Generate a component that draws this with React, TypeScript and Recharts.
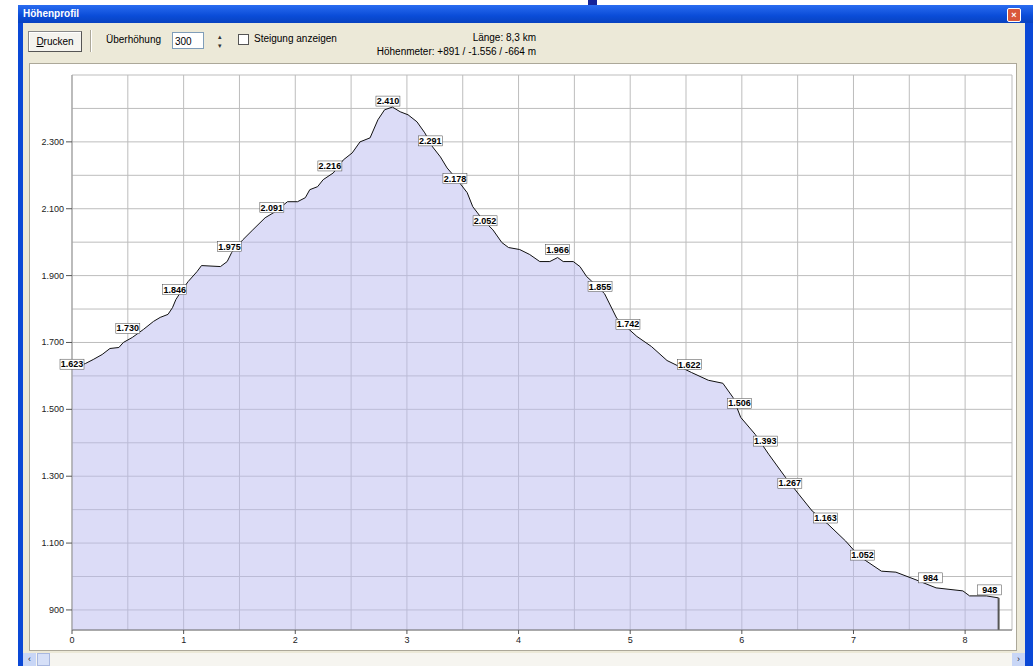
import React from 'react'
import {
  ComposedChart,
  Area,
  Scatter,
  XAxis,
  YAxis,
  CartesianGrid,
  ReferenceLine,
} from 'recharts'

// elevation profile (km / m)
const distKm = [
  0.0, 0.12, 0.19, 0.27, 0.34, 0.42, 0.46, 0.54, 0.64, 0.73, 0.79, 0.86, 0.9, 0.93, 0.97,
  1.04, 1.12, 1.16, 1.33, 1.39, 1.43, 1.53, 1.62, 1.73, 1.82, 1.93, 2.02, 2.09, 2.13, 2.2,
  2.25, 2.34, 2.43, 2.51, 2.58, 2.67, 2.74, 2.8, 2.87, 2.94, 3.01, 3.09, 3.16, 3.23, 3.3,
  3.36, 3.45, 3.54, 3.59, 3.68, 3.77, 3.85, 3.91, 4.01, 4.1, 4.19, 4.28, 4.35, 4.4, 4.49,
  4.55, 4.61, 4.64, 4.77, 4.88, 5.06, 5.19, 5.33, 5.55, 5.7, 5.83, 5.92, 5.99, 6.12, 6.24,
  6.39, 6.51, 6.63, 6.77, 6.93, 7.05, 7.25, 7.38, 7.56, 7.74, 7.98, 8.04, 8.19, 8.3,
]
const elevM = [
  1622, 1637, 1649, 1664, 1682, 1685, 1700, 1715, 1739, 1763, 1775, 1784, 1804, 1828, 1849,
  1882, 1912, 1930, 1927, 1942, 1969, 2007, 2037, 2073, 2091, 2121, 2121, 2133, 2157, 2166,
  2187, 2207, 2246, 2267, 2300, 2312, 2366, 2396, 2404, 2390, 2381, 2360, 2327, 2285, 2255,
  2222, 2187, 2148, 2106, 2067, 2037, 1999, 1984, 1978, 1963, 1942, 1942, 1954, 1942, 1942,
  1927, 1897, 1888, 1846, 1772, 1718, 1688, 1646, 1610, 1587, 1578, 1536, 1476, 1425, 1366,
  1297, 1246, 1196, 1157, 1106, 1061, 1016, 1013, 990, 966, 957, 942, 942, 936,
]

// waypoint labels along the line
const labelKm = [
  0.0, 0.5, 0.92, 1.41, 1.79, 2.31, 2.83, 3.21, 3.43, 3.7, 4.35, 4.73, 4.98, 5.53, 5.98,
  6.21, 6.43, 6.75, 7.08, 7.69, 8.22,
]
const labelElev = [
  1623, 1730, 1846, 1975, 2091, 2216, 2410, 2291, 2178, 2052, 1966, 1855, 1742, 1622, 1506,
  1393, 1267, 1163, 1052, 984, 948,
]

const xTicks = [0, 0.5, 1, 1.5, 2, 2.5, 3, 3.5, 4, 4.5, 5, 5.5, 6, 6.5, 7, 7.5, 8]
const xLabels = [0, 1, 2, 3, 4, 5, 6, 7, 8]
const yTicks = [900, 1000, 1100, 1200, 1300, 1400, 1500, 1600, 1700, 1800, 1900, 2000, 2100, 2200, 2300, 2400, 2500]
const yLabels = [900, 1100, 1300, 1500, 1700, 1900, 2100, 2300]

const data = distKm.map((km, i) => ({ km, elev: elevM[i] }))
const labelData = labelKm.map((km, i) => ({ km, elev: labelElev[i] }))

const Y_MIN = 840
const fmt = (v: number) => v.toLocaleString('de-DE')
const ui = { fontFamily: '"Liberation Sans", Arial, sans-serif', fontSize: 10, color: '#000' }

const YTick = ({ x, y, payload }: any) => {
  if (!yLabels.includes(payload.value)) return <g />
  return (
    <g>
      <line x1={x + 2} x2={x + 8} y1={y} y2={y} stroke="#555" />
      <text x={x} y={y} dy={3} textAnchor="end" fontSize={9} fill="#222" fontFamily="Liberation Sans">
        {fmt(payload.value)}
      </text>
    </g>
  )
}

const XTick = ({ x, y, payload }: any) => {
  if (!xLabels.includes(payload.value)) return <g />
  return (
    <g>
      <line x1={x} x2={x} y1={y - 8} y2={y - 4} stroke="#555" />
      <text x={x} y={y} dy={5} textAnchor="middle" fontSize={9} fill="#222" fontFamily="Liberation Sans">
        {payload.value}
      </text>
    </g>
  )
}

const WaypointLabel = ({ cx, cy, payload }: any) => (
  <g>
    <rect x={cx - 12} y={cy - 9} width={24} height={10} fill="#fff" stroke="#444" strokeWidth={0.5} />
    <text x={cx} y={cy - 1} textAnchor="middle" fontSize={9} fontWeight="bold" fill="#000" fontFamily="Liberation Sans">
      {fmt(payload.elev)}
    </text>
  </g>
)

export default function App() {
  const last = data[data.length - 1]
  return (
    <div style={{ position: 'absolute', left: 0, top: 0, width: 1033, height: 666, background: '#fff', overflow: 'hidden', ...ui }}>
      <div style={{ position: 'absolute', left: 588, top: 0, width: 9, height: 8, background: '#14249a' }} />
      {/* window frame */}
      <div style={{ position: 'absolute', left: 18, top: 5, width: 1015, height: 661, background: '#0a48d6' }} />
      <div style={{ position: 'absolute', left: 18, top: 5, width: 1015, height: 18, background: 'linear-gradient(#2a6cf0, #0a4cd8 60%, #0842c0)' }}>
        <span style={{ position: 'absolute', left: 5, top: 3, color: '#fff', fontWeight: 'bold', fontSize: 10 }}>Höhenprofil</span>
        <div style={{ position: 'absolute', right: 12, top: 3, width: 12, height: 12, background: '#d9583a', border: '1px solid #fff', borderRadius: 2, color: '#fff', fontSize: 9, lineHeight: '12px', textAlign: 'center', fontWeight: 'bold' }}>×</div>
      </div>
      <div style={{ position: 'absolute', left: 23, top: 23, width: 1002, height: 643, background: '#ece9d8' }} />

      {/* toolbar */}
      <div style={{ position: 'absolute', left: 28, top: 31, width: 52, height: 19, background: '#f4f3ee', border: '1px solid #888', borderRightColor: '#555', borderBottomColor: '#555', boxShadow: 'inset 1px 1px #fff', textAlign: 'center', lineHeight: '19px' }}>
        <u>D</u>rucken
      </div>
      <div style={{ position: 'absolute', left: 90, top: 30, width: 1, height: 22, background: '#aca899', borderRight: '1px solid #fff' }} />
      <span style={{ position: 'absolute', left: 106, top: 34 }}>Überhöhung</span>
      <div style={{ position: 'absolute', left: 172, top: 32, width: 32, height: 17, background: '#fff', border: '1px solid #7f9db9', lineHeight: '17px', paddingLeft: 2, boxSizing: 'border-box' }}>300</div>
      <div style={{ position: 'absolute', left: 212, top: 32, width: 15, height: 18, fontSize: 7, lineHeight: '9px', textAlign: 'center', color: '#333' }}>
        <div>▴</div>
        <div>▾</div>
      </div>
      <div style={{ position: 'absolute', left: 238, top: 34, width: 9, height: 9, background: '#fff', border: '1px solid #555' }} />
      <span style={{ position: 'absolute', left: 254, top: 33 }}>Steigung anzeigen</span>
      <span style={{ position: 'absolute', right: 1033 - 536, top: 32, whiteSpace: 'nowrap' }}>Länge: 8,3 km</span>
      <span style={{ position: 'absolute', right: 1033 - 536, top: 46, whiteSpace: 'nowrap' }}>Höhenmeter: +891 / -1.556 / -664 m</span>

      {/* plot panel */}
      <div style={{ position: 'absolute', left: 29, top: 63, width: 988, height: 588, background: '#fff', border: '1px solid #aca899', boxSizing: 'border-box' }} />
      <div style={{ position: 'absolute', left: 30, top: 64 }}>
        <ComposedChart width={986} height={584} data={data} margin={{ top: 11, right: 4, left: 0, bottom: 0 }}>
          <CartesianGrid stroke="#bdbdbd" />
          <XAxis
            dataKey="km"
            type="number"
            domain={[0, 8.42]}
            ticks={xTicks}
            interval={0}
            height={18}
            tickLine={false}
            tickSize={6}
            tickMargin={2}
            tick={<XTick />}
            axisLine={{ stroke: '#777' }}
          />
          <YAxis
            type="number"
            domain={[Y_MIN, 2500]}
            ticks={yTicks}
            interval={0}
            width={42}
            tickLine={false}
            tickSize={6}
            tickMargin={2}
            tick={<YTick />}
            axisLine={{ stroke: '#999' }}
          />
          <Area
            dataKey="elev"
            type="linear"
            stroke="#111"
            strokeWidth={1}
            fill="#b9b9f0"
            fillOpacity={0.5}
            baseValue={Y_MIN}
            isAnimationActive={false}
            dot={false}
            activeDot={false}
          />
          <ReferenceLine
            segment={[{ x: last.km, y: Y_MIN }, { x: last.km, y: last.elev }]}
            stroke="#555"
            strokeWidth={2}
          />
          <Scatter data={labelData} dataKey="elev" shape={<WaypointLabel />} isAnimationActive={false} />
        </ComposedChart>
      </div>

      {/* scrollbar */}
      <div style={{ position: 'absolute', left: 23, top: 653, width: 1002, height: 13, background: '#f6f5f0' }} />
      <div style={{ position: 'absolute', left: 23, top: 653, width: 13, height: 13, background: '#c8d6f6', fontSize: 9, lineHeight: '13px', textAlign: 'center', color: '#223' }}>‹</div>
      <div style={{ position: 'absolute', left: 37, top: 653, width: 13, height: 13, background: '#d6e0f8', border: '1px solid #a8b8e0', boxSizing: 'border-box' }} />
      <div style={{ position: 'absolute', left: 1012, top: 653, width: 13, height: 13, background: '#c8d6f6', fontSize: 9, lineHeight: '13px', textAlign: 'center', color: '#223' }}>›</div>
    </div>
  )
}
